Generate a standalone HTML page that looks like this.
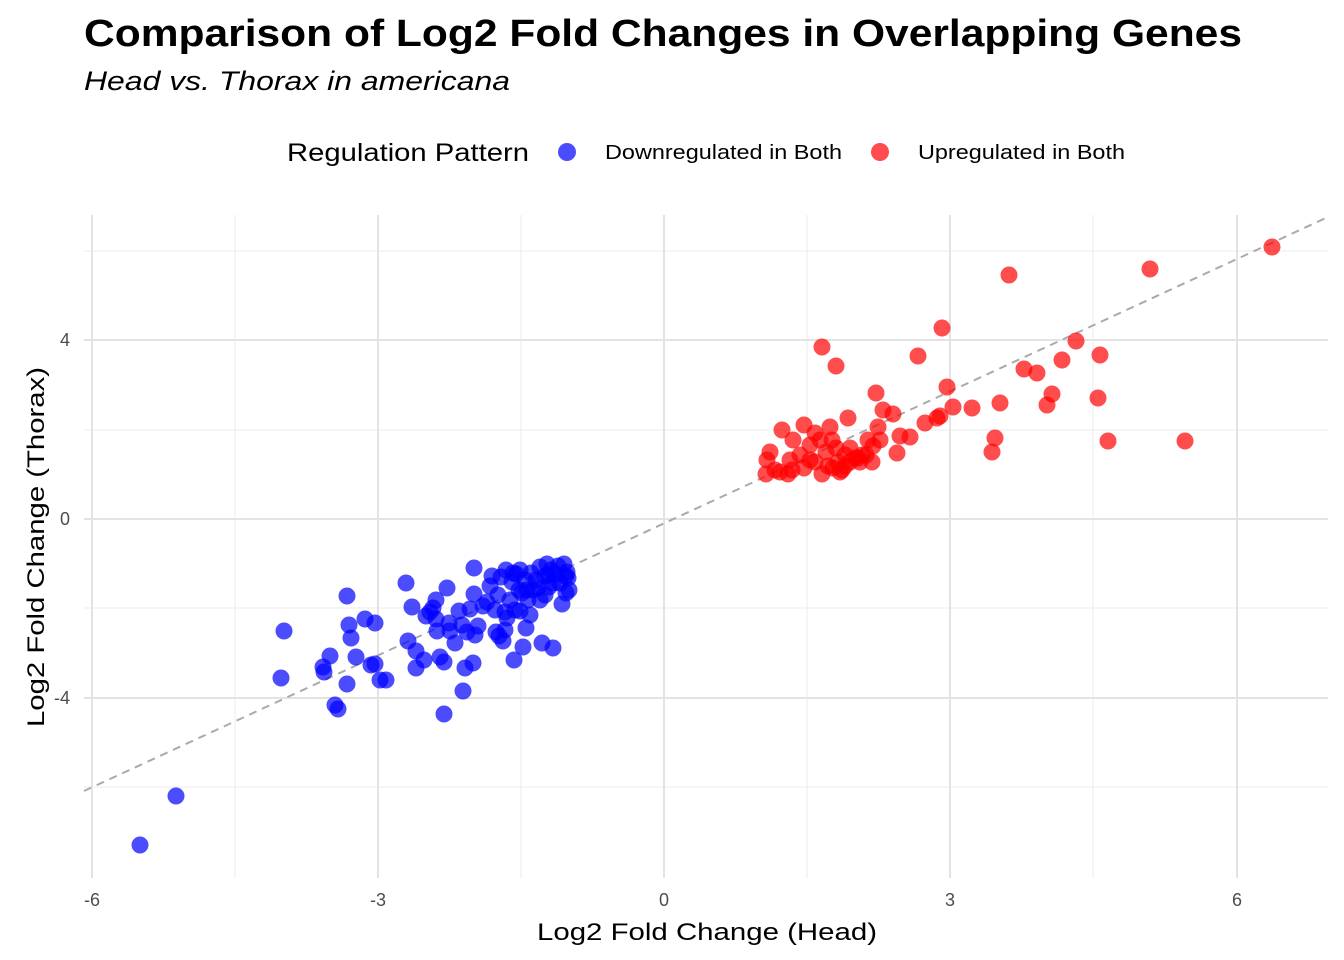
<!DOCTYPE html>
<html><head><meta charset="utf-8"><style>
html,body{margin:0;padding:0;background:#fff;}
svg{display:block;font-family:"Liberation Sans",Arial,sans-serif;}
</style></head><body>
<svg width="1344" height="960" viewBox="0 0 1344 960" xmlns="http://www.w3.org/2000/svg">
<rect width="1344" height="960" fill="#fff"/>
<text x="84" y="46" font-size="38" font-weight="bold" fill="#000" textLength="1158" lengthAdjust="spacingAndGlyphs">Comparison of Log2 Fold Changes in Overlapping Genes</text>
<text x="84" y="90" font-size="27" font-style="italic" fill="#000" textLength="426" lengthAdjust="spacingAndGlyphs">Head vs. Thorax in americana</text>
<text x="287" y="161" font-size="25" fill="#000" textLength="242" lengthAdjust="spacingAndGlyphs">Regulation Pattern</text>
<circle cx="567" cy="152" r="9" fill="#0000ff" fill-opacity="0.7"/>
<text x="605" y="159" font-size="20" fill="#000" textLength="237" lengthAdjust="spacingAndGlyphs">Downregulated in Both</text>
<circle cx="880" cy="152" r="9" fill="#ff0000" fill-opacity="0.7"/>
<text x="918" y="159" font-size="20" fill="#000" textLength="207" lengthAdjust="spacingAndGlyphs">Upregulated in Both</text>
<g stroke="#ebebeb" stroke-width="1">
<line x1="84" x2="1328" y1="251" y2="251"/><line x1="84" x2="1328" y1="430" y2="430"/>
<line x1="84" x2="1328" y1="608" y2="608"/><line x1="84" x2="1328" y1="787" y2="787"/>
<line y1="215" y2="878" x1="235" x2="235"/><line y1="215" y2="878" x1="521" x2="521"/>
<line y1="215" y2="878" x1="807" x2="807"/><line y1="215" y2="878" x1="1093" x2="1093"/>
</g>
<g stroke="#e3e3e3" stroke-width="2">
<line x1="84" x2="1328" y1="340" y2="340"/><line x1="84" x2="1328" y1="519" y2="519"/><line x1="84" x2="1328" y1="698" y2="698"/>
<line y1="215" y2="878" x1="92" x2="92"/><line y1="215" y2="878" x1="378" x2="378"/>
<line y1="215" y2="878" x1="664" x2="664"/><line y1="215" y2="878" x1="950" x2="950"/><line y1="215" y2="878" x1="1237" x2="1237"/>
</g>
<line x1="84" y1="791" x2="1328" y2="217" stroke="#aaaaaa" stroke-width="2" stroke-dasharray="8,6"/>
<g fill="#ff0000" fill-opacity="0.7">
<circle cx="1272" cy="247" r="8.5"/><circle cx="1150" cy="269" r="8.5"/><circle cx="1009" cy="275" r="8.5"/><circle cx="942" cy="328" r="8.5"/><circle cx="822" cy="347" r="8.5"/><circle cx="918" cy="356" r="8.5"/><circle cx="836" cy="366" r="8.5"/><circle cx="1076" cy="341" r="8.5"/><circle cx="1100" cy="355" r="8.5"/><circle cx="1024" cy="369" r="8.5"/><circle cx="1037" cy="373" r="8.5"/><circle cx="1062" cy="360" r="8.5"/><circle cx="1052" cy="394" r="8.5"/><circle cx="1098" cy="398" r="8.5"/><circle cx="1047" cy="405" r="8.5"/><circle cx="1000" cy="403" r="8.5"/><circle cx="947" cy="387" r="8.5"/><circle cx="876" cy="393" r="8.5"/><circle cx="953" cy="407" r="8.5"/><circle cx="972" cy="408" r="8.5"/><circle cx="883" cy="410" r="8.5"/><circle cx="893" cy="414" r="8.5"/><circle cx="937" cy="418" r="8.5"/><circle cx="940" cy="416" r="8.5"/><circle cx="848" cy="418" r="8.5"/><circle cx="804" cy="425" r="8.5"/><circle cx="830" cy="427" r="8.5"/><circle cx="782" cy="430" r="8.5"/><circle cx="925" cy="423" r="8.5"/><circle cx="878" cy="427" r="8.5"/><circle cx="815" cy="433" r="8.5"/><circle cx="900" cy="436" r="8.5"/><circle cx="910" cy="437" r="8.5"/><circle cx="820" cy="440" r="8.5"/><circle cx="868" cy="440" r="8.5"/><circle cx="793" cy="440" r="8.5"/><circle cx="873" cy="446" r="8.5"/><circle cx="1108" cy="441" r="8.5"/><circle cx="1185" cy="441" r="8.5"/><circle cx="995" cy="438" r="8.5"/><circle cx="992" cy="452" r="8.5"/><circle cx="897" cy="453" r="8.5"/><circle cx="800" cy="455" r="8.5"/><circle cx="767" cy="460" r="8.5"/><circle cx="770" cy="452" r="8.5"/><circle cx="775" cy="470" r="8.5"/><circle cx="780" cy="472" r="8.5"/><circle cx="788" cy="474" r="8.5"/><circle cx="792" cy="470" r="8.5"/><circle cx="766" cy="474" r="8.5"/><circle cx="810" cy="460" r="8.5"/><circle cx="815" cy="462" r="8.5"/><circle cx="822" cy="474" r="8.5"/><circle cx="828" cy="466" r="8.5"/><circle cx="833" cy="468" r="8.5"/><circle cx="838" cy="462" r="8.5"/><circle cx="842" cy="470" r="8.5"/><circle cx="845" cy="466" r="8.5"/><circle cx="850" cy="462" r="8.5"/><circle cx="855" cy="458" r="8.5"/><circle cx="860" cy="462" r="8.5"/><circle cx="866" cy="455" r="8.5"/><circle cx="872" cy="462" r="8.5"/><circle cx="826" cy="452" r="8.5"/><circle cx="836" cy="448" r="8.5"/><circle cx="845" cy="455" r="8.5"/><circle cx="810" cy="445" r="8.5"/><circle cx="832" cy="440" r="8.5"/><circle cx="850" cy="448" r="8.5"/><circle cx="840" cy="472" r="8.5"/><circle cx="858" cy="458" r="8.5"/><circle cx="862" cy="455" r="8.5"/><circle cx="880" cy="440" r="8.5"/><circle cx="804" cy="468" r="8.5"/><circle cx="790" cy="460" r="8.5"/>
</g>
<g fill="#0000ff" fill-opacity="0.7">
<circle cx="140" cy="845" r="8.5"/><circle cx="176" cy="796" r="8.5"/><circle cx="281" cy="678" r="8.5"/><circle cx="284" cy="631" r="8.5"/><circle cx="347" cy="596" r="8.5"/><circle cx="335" cy="705" r="8.5"/><circle cx="338" cy="709" r="8.5"/><circle cx="347" cy="684" r="8.5"/><circle cx="323" cy="667" r="8.5"/><circle cx="324" cy="672" r="8.5"/><circle cx="330" cy="656" r="8.5"/><circle cx="351" cy="638" r="8.5"/><circle cx="349" cy="625" r="8.5"/><circle cx="365" cy="619" r="8.5"/><circle cx="375" cy="623" r="8.5"/><circle cx="356" cy="657" r="8.5"/><circle cx="371" cy="665" r="8.5"/><circle cx="375" cy="664" r="8.5"/><circle cx="380" cy="680" r="8.5"/><circle cx="386" cy="680" r="8.5"/><circle cx="406" cy="583" r="8.5"/><circle cx="412" cy="607" r="8.5"/><circle cx="408" cy="641" r="8.5"/><circle cx="416" cy="651" r="8.5"/><circle cx="416" cy="668" r="8.5"/><circle cx="424" cy="660" r="8.5"/><circle cx="426" cy="616" r="8.5"/><circle cx="430" cy="612" r="8.5"/><circle cx="433" cy="608" r="8.5"/><circle cx="436" cy="600" r="8.5"/><circle cx="436" cy="619" r="8.5"/><circle cx="437" cy="631" r="8.5"/><circle cx="440" cy="657" r="8.5"/><circle cx="444" cy="662" r="8.5"/><circle cx="444" cy="714" r="8.5"/><circle cx="447" cy="588" r="8.5"/><circle cx="449" cy="623" r="8.5"/><circle cx="450" cy="631" r="8.5"/><circle cx="455" cy="643" r="8.5"/><circle cx="459" cy="611" r="8.5"/><circle cx="462" cy="625" r="8.5"/><circle cx="463" cy="691" r="8.5"/><circle cx="465" cy="668" r="8.5"/><circle cx="467" cy="632" r="8.5"/><circle cx="470" cy="609" r="8.5"/><circle cx="473" cy="663" r="8.5"/><circle cx="474" cy="568" r="8.5"/><circle cx="475" cy="635" r="8.5"/><circle cx="474" cy="594" r="8.5"/><circle cx="478" cy="626" r="8.5"/><circle cx="487" cy="602" r="8.5"/><circle cx="490" cy="586" r="8.5"/><circle cx="492" cy="576" r="8.5"/><circle cx="495" cy="610" r="8.5"/><circle cx="496" cy="632" r="8.5"/><circle cx="499" cy="636" r="8.5"/><circle cx="501" cy="577" r="8.5"/><circle cx="503" cy="641" r="8.5"/><circle cx="505" cy="630" r="8.5"/><circle cx="507" cy="618" r="8.5"/><circle cx="510" cy="600" r="8.5"/><circle cx="512" cy="582" r="8.5"/><circle cx="514" cy="660" r="8.5"/><circle cx="516" cy="574" r="8.5"/><circle cx="519" cy="590" r="8.5"/><circle cx="520" cy="611" r="8.5"/><circle cx="523" cy="647" r="8.5"/><circle cx="525" cy="580" r="8.5"/><circle cx="526" cy="628" r="8.5"/><circle cx="528" cy="600" r="8.5"/><circle cx="531" cy="573" r="8.5"/><circle cx="533" cy="590" r="8.5"/><circle cx="536" cy="580" r="8.5"/><circle cx="540" cy="567" r="8.5"/><circle cx="542" cy="643" r="8.5"/><circle cx="545" cy="576" r="8.5"/><circle cx="547" cy="564" r="8.5"/><circle cx="549" cy="587" r="8.5"/><circle cx="551" cy="570" r="8.5"/><circle cx="553" cy="648" r="8.5"/><circle cx="555" cy="574" r="8.5"/><circle cx="558" cy="566" r="8.5"/><circle cx="560" cy="583" r="8.5"/><circle cx="562" cy="604" r="8.5"/><circle cx="564" cy="564" r="8.5"/><circle cx="566" cy="576" r="8.5"/><circle cx="568" cy="578" r="8.5"/><circle cx="569" cy="590" r="8.5"/><circle cx="566" cy="593" r="8.5"/><circle cx="567" cy="572" r="8.5"/><circle cx="522" cy="593" r="8.5"/><circle cx="515" cy="610" r="8.5"/><circle cx="505" cy="612" r="8.5"/><circle cx="498" cy="595" r="8.5"/><circle cx="483" cy="606" r="8.5"/><circle cx="530" cy="615" r="8.5"/><circle cx="540" cy="600" r="8.5"/><circle cx="545" cy="595" r="8.5"/><circle cx="553" cy="583" r="8.5"/><circle cx="527" cy="590" r="8.5"/><circle cx="506" cy="570" r="8.5"/><circle cx="513" cy="573" r="8.5"/><circle cx="520" cy="570" r="8.5"/><circle cx="538" cy="588" r="8.5"/><circle cx="548" cy="575" r="8.5"/>
</g>
<g font-size="18" fill="#4d4d4d" text-anchor="middle">
<text x="92" y="906">-6</text><text x="378" y="906">-3</text><text x="664" y="906">0</text><text x="950" y="906">3</text><text x="1237" y="906">6</text>
</g>
<g font-size="18" fill="#4d4d4d" text-anchor="end">
<text x="70" y="346">4</text><text x="70" y="525">0</text><text x="70" y="704">-4</text>
</g>
<text x="537" y="940" font-size="24" fill="#000" textLength="340" lengthAdjust="spacingAndGlyphs">Log2 Fold Change (Head)</text>
<text transform="translate(44,727) rotate(-90)" font-size="24" fill="#000" textLength="360" lengthAdjust="spacingAndGlyphs">Log2 Fold Change (Thorax)</text>
</svg>
</body></html>
